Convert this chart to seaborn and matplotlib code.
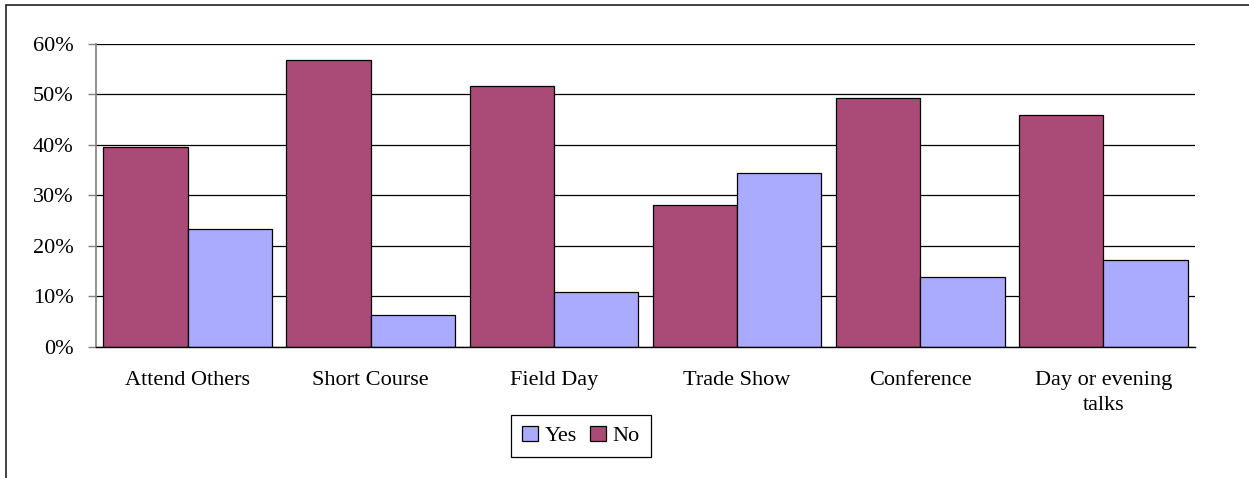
import pandas as pd
import numpy as np
import matplotlib
matplotlib.use("Agg")
import matplotlib.pyplot as plt
import seaborn as sns
from matplotlib.ticker import PercentFormatter, FixedLocator
from matplotlib.patches import Rectangle

# values (percent)
categories = ["Attend Others", "Short Course", "Field Day", "Trade Show",
              "Conference", "Day or evening\ntalks"]
no_values = [39.6, 56.7, 51.7, 28.1, 49.3, 45.8]
yes_values = [23.4, 6.3, 10.9, 34.4, 13.8, 17.2]

df = pd.DataFrame({
    "Event": categories * 2,
    "Answer": ["No"] * len(categories) + ["Yes"] * len(categories),
    "Pct": no_values + yes_values,
})

sns.set_style("white")
plt.rcParams["font.family"] = ["Liberation Serif", "DejaVu Serif"]
plt.rcParams["text.color"] = "black"
plt.rcParams["xtick.color"] = "black"
plt.rcParams["ytick.color"] = "black"

fig = plt.figure(figsize=(12.49, 4.78), dpi=100)
ax = fig.add_axes([96 / 1249, 1 - 347 / 478, (1195 - 96) / 1249, (347 - 43.7) / 478])

# outer chart border (cut off at right and bottom like the reference)
fig.patches.append(Rectangle((6 / 1249, -0.05), 1.1, 1 - 5 / 478 + 0.05,
                             transform=fig.transFigure, fill=False,
                             edgecolor="#222222", linewidth=1.2))

sns.barplot(data=df, x="Event", y="Pct", hue="Answer", hue_order=["No", "Yes"],
            palette={"No": "#AA4A76", "Yes": "#AAAAFF"}, width=0.92,
            edgecolor="black", linewidth=0.9, saturation=1, ax=ax)

ax.set_ylim(0, 60)
ax.set_xlim(-0.5, len(categories) - 0.5)
ax.set_yticks(np.arange(0, 61, 10))
ax.yaxis.set_major_formatter(PercentFormatter(decimals=0))
ax.grid(axis="y", color="black", linewidth=0.9)
ax.set_axisbelow(True)

ax.set_xlabel("")
ax.set_ylabel("")
ax.tick_params(axis="x", which="major", length=0, labelsize=16, pad=17,
               labelcolor="black")
ax.xaxis.set_minor_locator(FixedLocator(np.arange(-0.5, len(categories), 1.0)))
ax.tick_params(axis="x", which="minor", length=6, width=1, color="#555555", direction="out")
ax.tick_params(axis="y", length=6, width=1, color="#808080", direction="out",
               labelsize=16, pad=10, left=True, labelcolor="black")
for lbl in ax.get_xticklabels():
    lbl.set_linespacing(1.45)

for side in ["top", "right"]:
    ax.spines[side].set_visible(False)
ax.spines["left"].set_color("#808080")
ax.spines["bottom"].set_color("black")
ax.spines["left"].set_linewidth(1.2)
ax.spines["bottom"].set_linewidth(1)

handles, labels = ax.get_legend_handles_labels()
order = [labels.index("Yes"), labels.index("No")]
leg = ax.legend([handles[i] for i in order], [labels[i] for i in order],
                loc="center", bbox_to_anchor=(581 / 1249, 1 - 436 / 478),
                bbox_transform=fig.transFigure, ncol=2, fontsize=16,
                frameon=True, fancybox=False, edgecolor="black", framealpha=1,
                handlelength=0.7, handleheight=0.7, handletextpad=0.3,
                columnspacing=0.6, borderpad=0.5)
leg.get_frame().set_linewidth(0.9)

fig.savefig("out.png", dpi=100)
